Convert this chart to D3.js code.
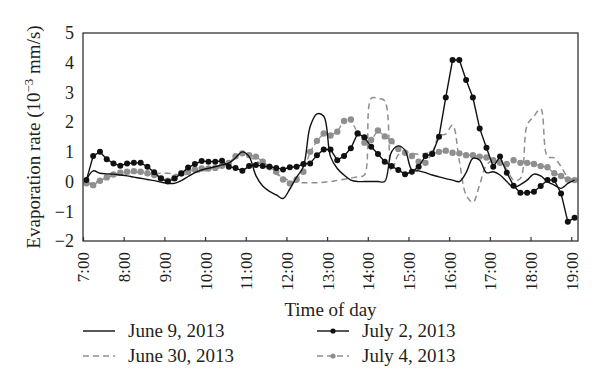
<!DOCTYPE html>
<html>
<head>
<meta charset="utf-8">
<script src="https://cdn.jsdelivr.net/npm/d3@7"></script>
<style>
  html, body { margin: 0; padding: 0; background: #fff; }
  svg { display: block; }
  text { font-family: "Liberation Serif", "DejaVu Serif", serif; fill: #231f20; }
</style>
</head>
<body>
<svg id="chart" width="600" height="389"></svg>
<script>
// ---- Data ----
const times = ["7:05","7:15","7:25","7:35","7:45","7:55","8:05","8:15","8:25","8:35","8:45","8:55",
  "9:05","9:15","9:25","9:35","9:45","9:55","10:05","10:15","10:25","10:35","10:45","10:55",
  "11:05","11:15","11:25","11:35","11:45","11:55","12:05","12:15","12:25","12:35","12:45","12:55",
  "13:05","13:15","13:25","13:35","13:45","13:55","14:05","14:15","14:25","14:35","14:45","14:55",
  "15:05","15:15","15:25","15:35","15:45","15:55","16:05","16:15","16:25","16:35","16:45","16:55",
  "17:05","17:15","17:25","17:35","17:45","17:55","18:05","18:15","18:25","18:35","18:45","18:55","19:05"];

const june9 = [0.05,0.36,0.28,0.26,0.25,0.22,0.19,0.15,0.11,0.07,0.03,-0.02,
  -0.06,-0.06,0.03,0.17,0.30,0.39,0.45,0.50,0.56,0.62,0.80,1.00,
  0.84,0.20,-0.15,-0.33,-0.45,-0.57,-0.25,0.15,0.50,1.85,2.28,2.20,
  0.84,0.44,0.22,0.05,0.00,0.00,0.00,0.00,0.00,1.00,1.20,1.05,
  0.39,0.36,0.30,0.22,0.16,0.10,0.05,0.00,0.30,0.78,0.72,0.30,
  0.33,0.22,0.00,-0.20,-0.10,0.05,0.25,0.19,0.00,-0.12,-0.23,-0.06,0.05];

const june30 = [-0.05,-0.05,0.05,0.12,0.20,0.25,0.30,0.32,0.30,0.28,0.27,0.28,
  0.28,0.25,0.22,0.25,0.30,0.35,0.38,0.42,0.50,0.60,0.80,0.95,
  0.85,0.70,0.55,0.40,0.25,0.15,0.02,-0.02,-0.04,-0.04,-0.04,-0.02,
  0.00,0.04,0.08,0.12,0.16,0.22,2.80,2.80,2.72,0.35,0.90,1.00,
  0.95,0.92,0.95,1.00,1.55,1.60,1.90,0.70,-0.45,-0.70,-0.10,0.55,
  0.72,0.65,0.40,0.05,0.10,1.90,2.20,2.45,0.84,0.80,0.50,0.15,0.05];

const july2 = [0.05,0.86,1.00,0.75,0.61,0.53,0.61,0.63,0.63,0.50,0.31,0.10,
  0.00,0.10,0.27,0.47,0.59,0.69,0.67,0.67,0.70,0.50,0.46,0.36,
  0.52,0.56,0.52,0.50,0.46,0.41,0.48,0.50,0.59,0.61,0.89,1.08,
  1.08,0.72,0.86,1.12,1.62,1.49,1.17,0.93,0.67,0.52,0.39,0.25,
  0.33,0.50,0.86,0.93,1.51,2.83,4.09,4.09,3.42,2.83,1.79,1.14,
  0.50,0.84,0.30,-0.14,-0.38,-0.38,-0.34,-0.15,0.05,0.05,-0.40,-1.35,-1.22];

const july4 = [-0.06,-0.12,0.03,0.14,0.24,0.30,0.33,0.35,0.33,0.28,0.22,0.11,
  0.03,0.13,0.28,0.35,0.41,0.44,0.44,0.46,0.53,0.63,0.85,0.95,
  0.89,0.84,0.67,0.50,0.33,0.07,-0.06,0.07,0.33,1.00,1.37,1.62,
  1.55,1.68,2.04,2.09,1.63,1.31,1.40,1.72,1.52,1.36,1.10,0.97,
  0.86,0.67,0.63,0.95,1.00,1.04,0.97,0.95,0.89,0.89,0.84,0.81,
  0.72,0.63,0.59,0.72,0.63,0.63,0.59,0.52,0.48,0.28,0.19,0.07,0.05];

const xTickLabels = ["7:00","8:00","9:00","10:00","11:00","12:00","13:00","14:00","15:00","16:00","17:00","18:00","19:00"];
const yTickValues = [-2,-1,0,1,2,3,4,5];
const seriesNames = ["June 9, 2013","July 2, 2013","June 30, 2013","July 4, 2013"];

// ---- Helpers ----
const toHours = s => { const [h, m] = s.split(":").map(Number); return h + m / 60; };

const svg = d3.select("#chart");
const margin = { left: 83, right: 22, top: 33, bottom: 148 };
const W = 600, H = 389;

const x = d3.scaleLinear().domain([toHours("7:00"), toHours("19:10")]).range([margin.left, W - margin.right]);
const y = d3.scaleLinear().domain([-2, 5]).range([H - margin.bottom, margin.top]);

const GRAY = "#8f8f8f";

// ---- Series lines ----
function pts(vals) { return vals.map((v, i) => [toHours(times[i]), v]); }

const smooth = d3.line().x(d => x(d[0])).y(d => y(d[1])).curve(d3.curveCatmullRom.alpha(0.5));
const straight = d3.line().x(d => x(d[0])).y(d => y(d[1]));

const plot = svg.append("g");
svg.append("clipPath").attr("id", "clip").append("rect")
  .attr("x", x.range()[0]).attr("y", y.range()[1])
  .attr("width", x.range()[1] - x.range()[0]).attr("height", y.range()[0] - y.range()[1]);
plot.attr("clip-path", "url(#clip)");

// June 30: gray dashed
plot.append("path").attr("d", smooth(pts(june30)))
  .attr("fill", "none").attr("stroke", GRAY).attr("stroke-width", 1.5).attr("stroke-dasharray", "6,4");

// July 4: gray dashed with gray dots
plot.append("path").attr("d", straight(pts(july4)))
  .attr("fill", "none").attr("stroke", GRAY).attr("stroke-width", 1.3).attr("stroke-dasharray", "5,3");
plot.append("g").selectAll("circle").data(pts(july4)).join("circle")
  .attr("cx", d => x(d[0])).attr("cy", d => y(d[1])).attr("r", 3.2).attr("fill", GRAY);

// June 9: black solid
plot.append("path").attr("d", smooth(pts(june9)))
  .attr("fill", "none").attr("stroke", "#111").attr("stroke-width", 1.4);

// July 2: black solid with black dots
plot.append("path").attr("d", straight(pts(july2)))
  .attr("fill", "none").attr("stroke", "#111").attr("stroke-width", 1.4);
plot.append("g").selectAll("circle").data(pts(july2)).join("circle")
  .attr("cx", d => x(d[0])).attr("cy", d => y(d[1])).attr("r", 3).attr("fill", "#111");

// ---- Frame ----
svg.append("rect")
  .attr("x", x.range()[0]).attr("y", y.range()[1])
  .attr("width", x.range()[1] - x.range()[0]).attr("height", y.range()[0] - y.range()[1])
  .attr("fill", "none").attr("stroke", "#333").attr("stroke-width", 1.3);

// ---- Axes ----
const xAxis = d3.axisBottom(x)
  .tickValues(xTickLabels.map(toHours))
  .tickSize(-4)
  .tickFormat((d, i) => xTickLabels[i]);
const gx = svg.append("g").attr("transform", `translate(0,${y.range()[0]})`).call(xAxis);
gx.select(".domain").remove();
gx.selectAll(".tick line").attr("stroke", "#333").attr("stroke-width", 1.2);
gx.selectAll(".tick text")
  .attr("transform", "rotate(-90)")
  .attr("text-anchor", "end")
  .attr("x", -11).attr("y", 0).attr("dy", "0.35em")
  .style("font-family", "'Liberation Serif', 'DejaVu Serif', serif")
  .style("font-size", "17px").attr("fill", "#231f20");

const yAxis = d3.axisLeft(y).tickValues(yTickValues).tickSize(0).tickPadding(9).tickFormat(d3.format("d"));
const gy = svg.append("g").attr("transform", `translate(${x.range()[0]},0)`).call(yAxis);
gy.select(".domain").remove();
gy.selectAll(".tick text")
  .style("font-family", "'Liberation Serif', 'DejaVu Serif', serif")
  .style("font-size", "18px").attr("fill", "#231f20");

// ---- Axis titles ----
svg.append("text")
  .attr("x", (x.range()[0] + x.range()[1]) / 2).attr("y", 316)
  .attr("text-anchor", "middle").style("font-size", "19px")
  .text("Time of day");

const yt = svg.append("text")
  .attr("transform", `translate(40,${(y.range()[0] + y.range()[1]) / 2}) rotate(-90)`)
  .attr("text-anchor", "middle").style("font-size", "19px");
yt.append("tspan").text("Evaporation rate (10");
yt.append("tspan").attr("dy", -7).style("font-size", "13px").text("−3");
yt.append("tspan").attr("dy", 7).text(" mm/s)");

// ---- Legend ----
const legend = [
  { name: seriesNames[0], col: 0, row: 0, color: "#111", dash: null, dot: false },
  { name: seriesNames[1], col: 1, row: 0, color: "#111", dash: null, dot: true },
  { name: seriesNames[2], col: 0, row: 1, color: GRAY, dash: "6,4", dot: false },
  { name: seriesNames[3], col: 1, row: 1, color: GRAY, dash: "6,4", dot: true }
];
const colX = [83, 317];
const rowY = [337, 362];
legend.forEach(d => {
  const lx = colX[d.col], ly = rowY[d.row] - 6;
  svg.append("line").attr("x1", lx).attr("x2", lx + 32).attr("y1", ly).attr("y2", ly)
    .attr("stroke", d.color).attr("stroke-width", 1.4).attr("stroke-dasharray", d.dash);
  if (d.dot) svg.append("circle").attr("cx", lx + 16).attr("cy", ly).attr("r", 2.6).attr("fill", d.color);
  svg.append("text").attr("x", lx + 45).attr("y", rowY[d.row]).style("font-size", "19px").text(d.name);
});
</script>
</body>
</html>
